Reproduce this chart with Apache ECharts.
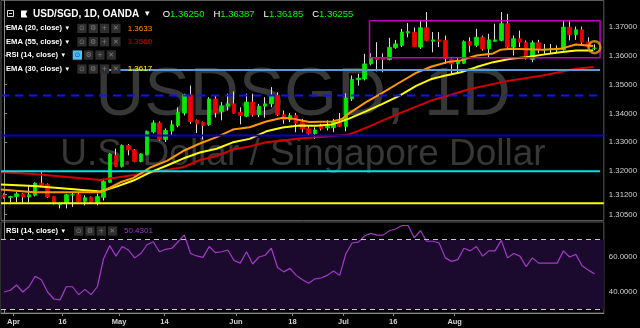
<!DOCTYPE html>
<html><head><meta charset="utf-8">
<script src="https://cdn.jsdelivr.net/npm/echarts@6/dist/echarts.min.js"></script>
<style>html,body{margin:0;padding:0;background:#000;}#c{width:640px;height:328px;}</style>
</head><body><div id="c"></div>
<script>
// ---------- data ----------
const opens  = [1.3118,1.3109,1.3113,1.3122,1.3111,1.3117,1.3159,1.3155,1.3113,1.3085,1.3088,1.3118,1.3120,1.3096,1.3111,1.3092,
1.3110,1.3162,1.3255,1.3217,1.3289,1.3274,1.3234,1.3257,1.3336,1.3367,1.3310,1.3339,1.3358,1.3401,1.3464,1.3376,
1.3369,1.3361,1.3450,1.3407,1.3425,1.3433,1.3404,1.3390,1.3439,1.3396,1.3425,1.3433,1.3462,1.3396,1.3378,1.3393,
1.3370,1.3347,1.3330,1.3357,1.3350,1.3351,1.3370,1.3355,1.3450,1.3516,1.3519,1.3571,1.3591,1.3591,1.3586,1.3627,
1.3635,1.3678,1.3681,1.3629,1.3696,1.3649,1.3654,1.3652,1.3586,1.3571,1.3573,1.3648,1.3635,1.3663,1.3623,1.3649,
1.3652,1.3710,1.3629,1.3658,1.3646,1.3586,1.3644,1.3620,1.3622,1.3619,1.3620,1.3698,1.3672,1.3689,1.3646,1.36250];
const closes = [1.3111,1.3113,1.3122,1.3111,1.3119,1.3159,1.3151,1.3111,1.3088,1.3086,1.3119,1.3119,1.3096,1.3109,1.3093,1.3113,
1.3165,1.3260,1.3217,1.3289,1.3274,1.3234,1.3260,1.3338,1.3367,1.3310,1.3341,1.3361,1.3404,1.3464,1.3372,1.3364,
1.3358,1.3450,1.3403,1.3426,1.3433,1.3401,1.3393,1.3439,1.3395,1.3425,1.3433,1.3462,1.3395,1.3378,1.3393,1.3366,
1.3346,1.3330,1.3343,1.3347,1.3356,1.3370,1.3355,1.3453,1.3517,1.3522,1.3571,1.3592,1.3586,1.3586,1.3628,1.3640,
1.3681,1.3683,1.3631,1.3696,1.3652,1.3654,1.3649,1.3589,1.3571,1.3579,1.3648,1.3635,1.3663,1.3623,1.3654,1.3654,
1.3710,1.3629,1.3658,1.3646,1.3589,1.3644,1.3620,1.3622,1.3623,1.3623,1.3698,1.3672,1.3689,1.3646,1.3629,1.36255];
const lows   = [1.3106,1.3093,1.3093,1.3090,1.3093,1.3113,1.3148,1.3108,1.3085,1.3072,1.3072,1.3077,1.3094,1.3082,1.3091,1.3082,
1.3099,1.3160,1.3215,1.3213,1.3255,1.3231,1.3231,1.3255,1.3331,1.3306,1.3301,1.3324,1.3352,1.3393,1.3364,1.3332,
1.3310,1.3357,1.3386,1.3376,1.3410,1.3399,1.3362,1.3387,1.3389,1.3387,1.3385,1.3421,1.3391,1.3364,1.3370,1.3335,
1.3335,1.3324,1.3312,1.3341,1.3341,1.3335,1.3353,1.3338,1.3443,1.3496,1.3514,1.3566,1.3545,1.3542,1.3583,1.3623,
1.3629,1.3663,1.3629,1.3623,1.3649,1.3611,1.3629,1.3571,1.3534,1.3537,1.3571,1.3611,1.3629,1.3617,1.3594,1.3648,
1.3649,1.3626,1.3600,1.3629,1.3586,1.3577,1.3608,1.3606,1.3606,1.3611,1.3617,1.3652,1.3654,1.3640,1.3628,1.36185];
const highs  = [1.3123,1.3115,1.3128,1.3125,1.3151,1.3162,1.3197,1.3158,1.3115,1.3092,1.3122,1.3128,1.3128,1.3117,1.3113,1.3123,
1.3174,1.3263,1.3278,1.3293,1.3294,1.3277,1.3262,1.3341,1.3376,1.3372,1.3348,1.3376,1.3421,1.3468,1.3496,1.3379,
1.3372,1.3456,1.3462,1.3439,1.3468,1.3476,1.3421,1.3468,1.3468,1.3433,1.3456,1.3491,1.3473,1.3410,1.3401,1.3401,
1.3381,1.3358,1.3352,1.3364,1.3376,1.3381,1.3401,1.3469,1.3531,1.3537,1.3606,1.3608,1.3646,1.3607,1.3661,1.3654,
1.3692,1.3712,1.3697,1.3723,1.3750,1.3681,1.3681,1.3669,1.3589,1.3594,1.3652,1.3663,1.3692,1.3669,1.3675,1.3710,
1.3750,1.3744,1.3669,1.3686,1.3652,1.3652,1.3654,1.3640,1.3640,1.3635,1.3719,1.3718,1.3700,1.3700,1.3663,1.36387];
const rsiValues = [40,41,44,40,43,49,47,40,36,35.5,43,43,38.5,41.5,38.5,43,
59,66.5,60.5,66,64,59.5,62,67,68.7,63,64.4,65,68.7,72.6,62,60.6,
59.8,66,62.5,63,64,58,56.5,63,56,60,61,65,54,51.5,53.5,49.5,
47,45,47.5,48,49.5,52,49.5,62,68,68.5,72,73.5,72.5,72.5,75,76,
78,78,71,75,69,69,68,59.5,57.5,58.5,65,63.5,66,60.5,63.5,63.5,
69.5,59.5,62,60.5,54.5,59.5,56.5,56.5,56.5,56.5,63.5,60,61.5,55,52.5,50.43];
// EMA lines, read as [bar index, price] points
const ema20 = [[-0.5,1.3137],[4.8,1.3128],[10.2,1.3128],[15.5,1.3128],[17.1,1.3144],[18.7,1.3162],[20.8,1.3177],[23.5,1.3213],
[26.2,1.3236],[28.8,1.3270],[31.5,1.3296],[34.2,1.3318],[36.8,1.3344],[39.5,1.3352],[42.2,1.3372],[44.8,1.3385],[46.4,1.3382],
[49.1,1.3370],[52.8,1.3372],[54.4,1.3381],[55.5,1.3400],[58.3,1.3440],[60.8,1.3470],[63.5,1.3505],[66.3,1.3540],[68.8,1.3562],
[71.5,1.3578],[73.5,1.3583],[76.0,1.3600],[78.7,1.3607],[79.9,1.3620],[81.5,1.3623],[86.7,1.3620],[89.5,1.3623],[92.0,1.3638],[94.8,1.3633]];
const ema30 = [[-0.5,1.3154],[4.8,1.3149],[10.2,1.3140],[15.5,1.3130],[18.2,1.3148],[20.8,1.3168],[23.5,1.3196],[26.2,1.3220],
[28.8,1.3244],[31.5,1.3265],[34.2,1.3278],[36.8,1.3300],[39.5,1.3312],[42.2,1.3338],[44.8,1.3351],[47.5,1.3358],[50.2,1.3357],
[52.8,1.3362],[55.5,1.3382],[58.3,1.3408],[60.8,1.3432],[63.5,1.3460],[66.3,1.3495],[68.8,1.3519],[70.7,1.3529],[73.5,1.3542],
[76.0,1.3560],[78.7,1.3577],[81.5,1.3589],[84.0,1.3594],[86.7,1.3603],[89.5,1.3611],[92.0,1.3617],[94.8,1.3617]];
const ema55 = [[-0.5,1.3197],[4.8,1.3191],[10.2,1.3180],[15.5,1.3170],[20.8,1.3187],[25.1,1.3201],[28.8,1.3214],[31.5,1.3239],
[34.2,1.3253],[36.8,1.3275],[39.5,1.3286],[42.2,1.3300],[44.8,1.3306],[47.5,1.3313],[52.8,1.3322],[55.5,1.3327],[58.3,1.3351],
[63.5,1.3399],[68.8,1.3445],[71.5,1.3462],[75.1,1.3485],[81.5,1.3514],[86.7,1.3531],[92.0,1.3554],[94.8,1.3560]];
// drawn horizontal levels and the range box
const levelPrices = [1.3550, 1.3462, 1.3324, 1.3200, 1.3090];
const levelStart  = [15.5, -0.5, -0.5, -0.5, -0.5];
const levelEnd    = [95.9, 95.5, 96.5, 95.9, 96.5];
const boxBars   = [58.8, 95.9];
const boxPrices = [1.3592, 1.3720];
const circlePoint = [95, 1.36287];
// tick labels
const xTickLabels = ['Apr','16','May','14','Jun','18','Jul','16','Aug'];
const xTickPos    = [1.5, 9.4, 18.5, 25.8, 37.3, 46.4, 54.6, 62.6, 72.5];
const priceTicks  = [1.37, 1.36, 1.35, 1.34, 1.33, 1.32, 1.312, 1.305];
const rsiTicks    = [40, 60];
const emaLegendValues = ['1.3633', '1.3560', '1.3617'];
const rsiLast = '50.4301';
const ohlcLast = ['1.36250', '1.36387', '1.36185', '1.36255'];

// ---------- chart ----------
const FONT = '"Liberation Sans", Arial, "DejaVu Sans", sans-serif';
const UP = '#00ec00', DOWN = '#f00000', WICK = '#dcdcdc';
const AXIS = '#8a8a8a', LABEL = '#d2d2d2';
const N = opens.length;
const cats = Array.from({length: N + 1}, (_, i) => String(i));
const ohlc = opens.map((o, i) => [o, closes[i], lows[i], highs[i]]);
const bodies = opens.map((o, i) => [o, closes[i], Math.min(o, closes[i]), Math.max(o, closes[i])]);

const g = [];
function txt(x, y, text, fill, size, weight, align, z, extra) {
  const el = {type:'text', x:x, y:y, z:(z===undefined?100:z), silent:true,
    style:Object.assign({text:text, fill:fill, font:(weight||'normal')+' '+size+'px '+FONT,
      textAlign:align||'left', textVerticalAlign:'middle', align:align||'left', verticalAlign:'middle'}, extra||{})};
  g.push(el);
}
function buttons(x0, y, hl) {
  const glyphs = ['⊙','⚙','+','✕'];
  glyphs.forEach((gl, k) => {
    const x = x0 + k * 11.3;
    const on = hl && k === 0;
    g.push({type:'rect', z:100, silent:true, shape:{x:x, y:y-4.6, width:9.3, height:9.3}, style:{fill: on ? '#4fc0f2' : '#2e2e2e'}});
    g.push({type:'text', z:101, silent:true, x:x+4.65, y:y+0.3, style:{text:gl, fill: on ? '#0d47a1' : '#7d7d7d',
      font:'7px "DejaVu Sans", sans-serif', textAlign:'center', textVerticalAlign:'middle', align:'center', verticalAlign:'middle'}});
  });
}
// watermark
txt(303, 96, 'USDSGD, 1D', '#373737', 68, 'normal', 'center', -1);
txt(303, 155, 'U.S. Dollar / Singapore Dollar', '#373737', 37, 'normal', 'center', -1);
// header
g.push({type:'rect', z:100, silent:true, shape:{x:7.5, y:10.5, width:6, height:6}, style:{fill:'none', stroke:'#dddddd', lineWidth:1}});
g.push({type:'line', z:100, silent:true, shape:{x1:9, y1:13.5, x2:12, y2:13.5}, style:{stroke:'#dddddd', lineWidth:1}});
g.push({type:'polygon', z:100, silent:true, shape:{points:[[21,10.5],[27.5,10.5],[25.6,14],[27.5,17.5],[21,17.5]]}, style:{fill:'#ffffff'}});
txt(33, 14, 'USD/SGD, 1D, OANDA', '#ffffff', 10, 'bold');
txt(145, 14, '▾', '#ffffff', 9, 'normal');
const ohlcNames = ['O','H','L','C'];
const ohlcX = [162.7, 213.4, 263.6, 312.2];
ohlcNames.forEach((n, k) => {
  txt(ohlcX[k], 14, '{a|' + n + '}{b|' + ohlcLast[k] + '}', '#ffffff', 9.5, 'normal', 'left', 100,
    {rich:{a:{fill:'#ffffff', font:'normal 9.5px ' + FONT}, b:{fill:'#00ff00', font:'normal 9.5px ' + FONT}}});
});
// indicator legend rows
const rowY = [28.3, 41.7, 55, 69];
const rowLabels = ['EMA (20, close)', 'EMA (55, close)', 'RSI (14, close)', 'EMA (30, close)'];
const rowColors = ['#ff9800', '#d40000', null, '#ffff00'];
const rowVals = [emaLegendValues[0], emaLegendValues[1], null, emaLegendValues[2]];
rowLabels.forEach((lab, k) => {
  const isRsi = k === 2;
  txt(6, rowY[k], lab, '#ffffff', 7.6, 'bold');
  txt(isRsi ? 61.5 : 65.5, rowY[k], '▾', '#ffffff', 7, 'normal');
  buttons(isRsi ? 72.7 : 77.3, rowY[k], isRsi);
  if (rowVals[k]) txt(127.7, rowY[k], rowVals[k], rowColors[k], 8, 'normal');
});
// RSI pane legend
txt(6, 231, 'RSI (14, close)', '#ffffff', 7.6, 'bold');
txt(61.5, 231, '▾', '#ffffff', 7, 'normal');
buttons(74, 231, false);
txt(124, 231, rsiLast, '#a23bc7', 8, 'normal');

const levelColors = ['#5a9ad8', '#0a14ff', '#0000d0', '#00e0e8', '#ffff00'];
const levelTypes  = ['solid', [8, 6], 'solid', 'solid', 'solid'];
const levelSeries = levelPrices.map((p, k) => ({
  type:'line', xAxisIndex:1, yAxisIndex:0, silent:true, symbol:'none', z:6,
  data:[[levelStart[k], p], [levelEnd[k], p]],
  lineStyle:{color:levelColors[k], width:2, type:levelTypes[k]}
}));

const option = {
  backgroundColor:'#000000',
  animation:false,
  graphic:g,
  grid:[
    {left:1, right:34, top:0.5, height:220, show:true, borderColor:'#5c5c5c', borderWidth:1, backgroundColor:'transparent'},
    {left:1, right:34, top:222, height:91, show:true, borderColor:'#5c5c5c', borderWidth:1, backgroundColor:'transparent'}
  ],
  xAxis:[
    {type:'category', gridIndex:0, data:cats, boundaryGap:true, show:false},
    {type:'value', gridIndex:0, min:-0.5, max:N + 0.5, show:false},
    {type:'category', gridIndex:1, data:cats, boundaryGap:true, axisLine:{show:true, lineStyle:{color:AXIS}},
      axisTick:{show:false}, axisLabel:{show:false}, splitLine:{show:false}},
    {type:'value', gridIndex:1, min:-0.5, max:N + 0.5, position:'bottom',
      axisLine:{show:false}, splitLine:{show:false},
      axisTick:{show:true, customValues:xTickPos, length:3, lineStyle:{color:AXIS}},
      axisLabel:{customValues:xTickPos, color:LABEL, fontSize:7.5, fontWeight:'bold', fontFamily:FONT, margin:5,
        formatter:function (v) { let b = 0; xTickPos.forEach((p, k) => { if (Math.abs(p - v) < Math.abs(xTickPos[b] - v)) b = k; }); return xTickLabels[b]; }}}
  ],
  yAxis:[
    {type:'value', gridIndex:0, position:'right', min:1.303, max:1.379,
      axisLine:{show:true, lineStyle:{color:AXIS}}, splitLine:{show:false},
      axisTick:{show:true, customValues:priceTicks, length:3, lineStyle:{color:AXIS}},
      axisLabel:{customValues:priceTicks, color:LABEL, fontSize:7.8, fontFamily:FONT, margin:5,
        formatter:function (v) { return v.toFixed(5); }}},
    {type:'value', gridIndex:1, position:'right', min:28, max:80,
      axisLine:{show:true, lineStyle:{color:AXIS}}, splitLine:{show:false},
      axisTick:{show:true, customValues:rsiTicks, length:3, lineStyle:{color:AXIS}},
      axisLabel:{customValues:rsiTicks, color:LABEL, fontSize:7.8, fontFamily:FONT, margin:5,
        formatter:function (v) { return v.toFixed(4); }}}
  ],
  series:[
    {type:'candlestick', name:'wick', xAxisIndex:0, yAxisIndex:0, data:ohlc, barWidth:1, silent:true, z:2,
      itemStyle:{color:WICK, color0:WICK, borderColor:WICK, borderColor0:WICK, borderWidth:1}},
    {type:'candlestick', name:'body', xAxisIndex:0, yAxisIndex:0, data:bodies, barWidth:4, silent:true, z:3,
      itemStyle:{color:UP, color0:DOWN, borderColor:UP, borderColor0:DOWN, borderWidth:0.8},
      markLine:{silent:true, symbol:['none','none'], animation:false, lineStyle:{opacity:0},
        data:[{yAxis:closes[N - 1]}],
        label:{show:true, position:'end', distance:1, formatter:closes[N - 1].toFixed(5),
          backgroundColor:'#00ff00', color:'#1e6b1e', fontSize:7.8, fontFamily:FONT, padding:[2, 3, 1, 3]}}},
    {type:'line', name:'EMA55', xAxisIndex:1, yAxisIndex:0, data:ema55, symbol:'none', silent:true, z:5,
      lineStyle:{color:'#d40000', width:2}},
    {type:'line', name:'EMA30', xAxisIndex:1, yAxisIndex:0, data:ema30, symbol:'none', silent:true, z:5,
      lineStyle:{color:'#ffff00', width:2}},
    {type:'line', name:'EMA20', xAxisIndex:1, yAxisIndex:0, data:ema20, symbol:'none', silent:true, z:5,
      lineStyle:{color:'#ff9800', width:2}},
    ...levelSeries,
    {type:'line', name:'box', xAxisIndex:1, yAxisIndex:0, silent:true, symbol:'none', z:6,
      data:[[boxBars[0], boxPrices[1]], [boxBars[1], boxPrices[1]], [boxBars[1], boxPrices[0]], [boxBars[0], boxPrices[0]], [boxBars[0], boxPrices[1]]],
      lineStyle:{color:'#c000c0', width:1.5}},
    {type:'scatter', name:'mark', xAxisIndex:0, yAxisIndex:0, silent:true, z:7, data:[circlePoint], symbol:'circle', symbolSize:12,
      itemStyle:{color:'rgba(0,0,0,0)', borderColor:'#e8a317', borderWidth:2.5}},
    {type:'line', name:'RSI', xAxisIndex:2, yAxisIndex:1, data:rsiValues, symbol:'none', silent:true, z:4,
      lineStyle:{color:'#a23bc7', width:1.2},
      markArea:{silent:true, itemStyle:{color:'#1b0a2d'}, data:[[{yAxis:30}, {yAxis:70}]]},
      markLine:{silent:true, symbol:['none','none'], label:{show:false},
        lineStyle:{color:'#c8c8c8', type:[5, 4], width:1}, data:[{yAxis:70}, {yAxis:30}]}}
  ]
};
const chart = echarts.init(document.getElementById('c'), null, {renderer:'canvas'});
chart.setOption(option);
</script>
</body></html>
